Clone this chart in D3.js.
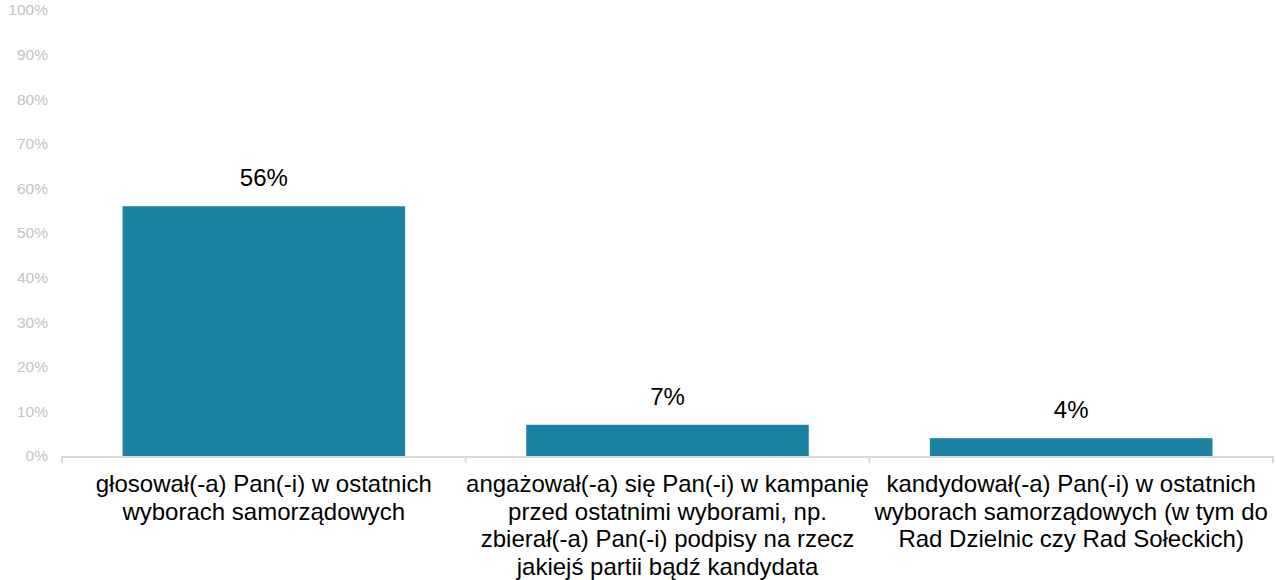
<!DOCTYPE html>
<html>
<head>
<meta charset="utf-8">
<script src="https://cdn.jsdelivr.net/npm/d3@7"></script>
<style>
  html, body { margin: 0; padding: 0; background: #ffffff; }
  svg { display: block; font-family: "Liberation Sans", Arial, sans-serif; }
</style>
</head>
<body>
<svg id="chart" width="1276" height="580"></svg>
<script>
// Survey answers: share of respondents (%)
const categories = [
  ["głosował(-a) Pan(-i) w ostatnich", "wyborach samorządowych"],
  ["angażował(-a) się Pan(-i) w kampanię", "przed ostatnimi wyborami, np.", "zbierał(-a) Pan(-i) podpisy na rzecz", "jakiejś partii bądź kandydata"],
  ["kandydował(-a) Pan(-i) w ostatnich", "wyborach samorządowych (w tym do", "Rad Dzielnic czy Rad Sołeckich)"]
];
const values = [56, 7, 4];
const valueLabels = ["56%", "7%", "4%"];
const yTicks = [0, 10, 20, 30, 40, 50, 60, 70, 80, 90, 100];

const svg = d3.select("#chart");
const plotLeft = 62, plotRight = 1273, plotTop = 10, plotBottom = 456;

const x = d3.scaleBand()
  .domain(d3.range(values.length))
  .range([plotLeft, plotRight])
  .paddingInner(0.3)
  .paddingOuter(0.15);

const y = d3.scaleLinear().domain([0, 100]).range([plotBottom, plotTop]);

// Y tick labels
svg.append("g")
  .selectAll("text")
  .data(yTicks)
  .join("text")
  .attr("x", 48)
  .attr("y", d => y(d))
  .attr("dy", "0.35em")
  .attr("text-anchor", "end")
  .attr("font-size", 15.5)
  .attr("fill", "#c4c4c4")
  .text(d => d + "%");

// Bars
svg.append("g")
  .selectAll("rect")
  .data(values)
  .join("rect")
  .attr("x", (d, i) => x(i))
  .attr("width", x.bandwidth())
  .attr("y", d => y(d))
  .attr("height", d => plotBottom - y(d))
  .attr("fill", "#1a83a4");

// X axis baseline with separating ticks
const axis = svg.append("g").attr("stroke", "#d9d9d9").attr("stroke-width", 2);
axis.append("line")
  .attr("x1", plotLeft).attr("x2", plotRight)
  .attr("y1", plotBottom + 1).attr("y2", plotBottom + 1);
const step = x.step();
const boundaries = d3.range(values.length + 1).map(i => plotLeft + i * step);
axis.selectAll("line.tick")
  .data(boundaries)
  .join("line")
  .attr("class", "tick")
  .attr("x1", d => d).attr("x2", d => d)
  .attr("y1", plotBottom).attr("y2", plotBottom + 7);

// Value labels
svg.append("g")
  .selectAll("text")
  .data(values)
  .join("text")
  .attr("x", (d, i) => x(i) + x.bandwidth() / 2)
  .attr("y", d => y(d) - 20)
  .attr("text-anchor", "middle")
  .attr("font-size", 24)
  .attr("fill", "#000")
  .text((d, i) => valueLabels[i]);

// Category labels
const catG = svg.append("g");
categories.forEach((lines, i) => {
  const cx = x(i) + x.bandwidth() / 2;
  const t = catG.append("text")
    .attr("text-anchor", "middle")
    .attr("font-size", 24)
    .attr("fill", "#000");
  lines.forEach((ln, j) => {
    t.append("tspan")
      .attr("x", cx)
      .attr("y", 492 + j * 27.7)
      .text(ln);
  });
});
</script>
</body>
</html>
